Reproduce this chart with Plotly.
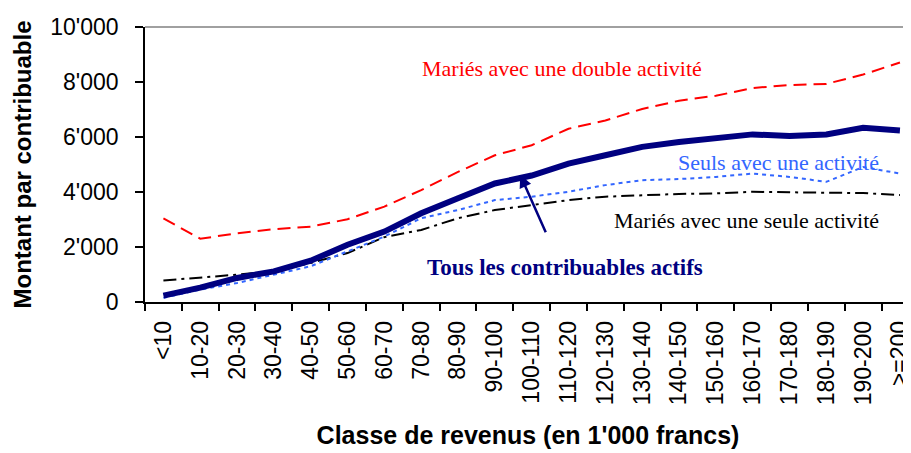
import plotly.graph_objects as go

categories = ["&lt;10", "10-20", "20-30", "30-40", "40-50", "50-60", "60-70", "70-80",
              "80-90", "90-100", "100-110", "110-120", "120-130", "130-140", "140-150",
              "150-160", "160-170", "170-180", "180-190", "190-200", "&gt;=200"]

maries_double = [3040, 2300, 2500, 2650, 2740, 3010, 3470, 4070, 4730, 5335, 5700,
                 6300, 6600, 7020, 7320, 7500, 7780, 7890, 7930, 8270, 8710]
seuls_une = [150, 450, 690, 995, 1300, 1840, 2380, 3045, 3345, 3705, 3830,
             4010, 4250, 4430, 4470, 4550, 4670, 4550, 4370, 4910, 4670]
maries_seule = [780, 875, 995, 1115, 1420, 1780, 2360, 2620, 3045, 3345, 3525,
                3705, 3830, 3890, 3930, 3950, 4010, 3990, 3970, 3960, 3890]
tous = [230, 520, 875, 1115, 1500, 2080, 2560, 3225, 3770, 4310, 4600,
        5030, 5335, 5640, 5820, 5940, 6095, 6035, 6095, 6335, 6240]

y_tickvals = [0, 2000, 4000, 6000, 8000, 10000]
y_ticktext = ["0", "2'000", "4'000", "6'000", "8'000", "10'000"]

fig = go.Figure()
fig.add_trace(go.Scatter(x=categories, y=maries_seule, mode="lines",
                         line=dict(color="black", width=2, dash="13px,5px,3px,5px")))
fig.add_trace(go.Scatter(x=categories, y=seuls_une, mode="lines",
                         line=dict(color="#3366FF", width=2, dash="4px,4px")))
fig.add_trace(go.Scatter(x=categories, y=maries_double, mode="lines",
                         line=dict(color="#FF0000", width=2, dash="13px,7px")))
fig.add_trace(go.Scatter(x=categories, y=tous, mode="lines",
                         line=dict(color="#000080", width=6)))

serif = "Liberation Serif, Times New Roman, serif"
fig.add_annotation(x=10.83, y=8480, text="Mariés avec une double activité", showarrow=False,
                   font=dict(family=serif, size=22, color="#FF0000"))
fig.add_annotation(x=16.7, y=5080, text="Seuls avec une activité", showarrow=False,
                   font=dict(family=serif, size=22, color="#3366FF"))
fig.add_annotation(x=15.84, y=2950, text="Mariés avec une seule activité", showarrow=False,
                   font=dict(family=serif, size=22, color="black"))
fig.add_annotation(x=10.9, y=1250, text="<b>Tous les contribuables actifs</b>", showarrow=False,
                   font=dict(family=serif, size=23, color="#000080"))
fig.add_annotation(x=9.69, y=4620, ax=10.4, ay=2480, axref="x", ayref="y", xref="x", yref="y",
                   text="", showarrow=True, arrowhead=2, arrowsize=1, arrowwidth=2.5,
                   arrowcolor="#000080")

fig.add_shape(type="line", xref="paper", yref="paper", x0=0, x1=1, y0=1, y1=1,
              line=dict(color="#808080", width=1.5))

# page body has an 8px margin: figure is sized/offset to compensate
sans = "Liberation Sans, Arial, sans-serif"
fig.update_layout(
    width=903, height=445,
    margin=dict(l=137, r=0, t=19, b=151, autoexpand=False),
    paper_bgcolor="white", plot_bgcolor="white",
    showlegend=False,
    font=dict(family=sans, color="black"),
)
fig.update_xaxes(
    type="category", range=[-0.5, 20.3], tickson="boundaries", automargin=False,
    showgrid=False, zeroline=False,
    showline=True, linecolor="black", linewidth=1.5,
    ticks="outside", ticklen=7, tickcolor="black", tickwidth=1.5,
    tickangle=-90, tickfont=dict(family=sans, size=23, color="black"),
    ticklabelstandoff=8,
    title=dict(text="<b>Classe de revenus (en 1'000 francs)</b>",
               font=dict(family=sans, size=25, color="black"), standoff=22),
)
fig.update_yaxes(
    range=[0, 10000], tickvals=y_tickvals, ticktext=y_ticktext, automargin=False,
    showgrid=False, zeroline=False,
    showline=True, linecolor="black", linewidth=1.5,
    ticks="outside", ticklen=8, tickcolor="black", tickwidth=1.5,
    tickfont=dict(family=sans, size=23, color="black"),
    ticklabelstandoff=12,
    title=dict(text="<b>Montant par contribuable</b>",
               font=dict(family=sans, size=24, color="black"), standoff=12),
)

fig.write_html("out.html")
